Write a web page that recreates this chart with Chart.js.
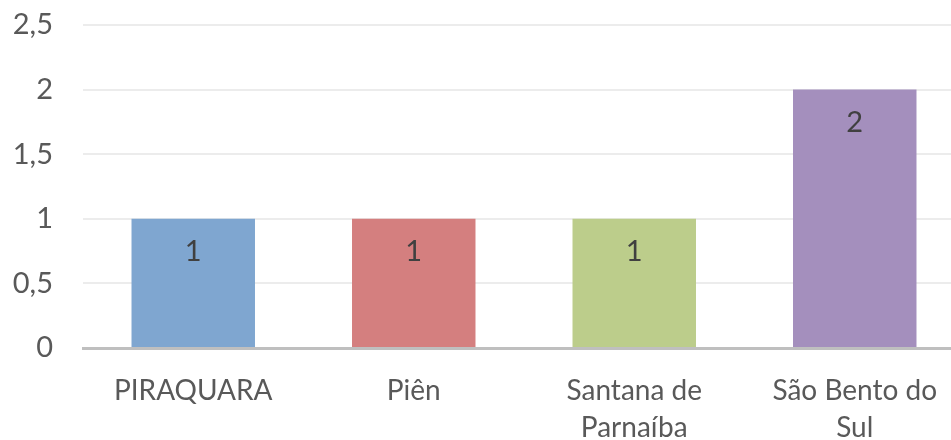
<!DOCTYPE html>
<html>
<head>
<meta charset="utf-8">
<script src="https://cdn.jsdelivr.net/npm/chart.js@4"></script>
<style>
  html, body { margin: 0; padding: 0; background: #fff; overflow: hidden; }
  #wrap { width: 965px; height: 440px; }
</style>
</head>
<body>
<div id="wrap"><canvas id="chart"></canvas></div>
<script>
const categories = ['PIRAQUARA', 'Piên', ['Santana de', 'Parnaíba'], ['São Bento do', 'Sul']];
const values = [1, 1, 1, 2];
const barColors = ['#7fa6d0', '#d47f7f', '#bccd8b', '#a48fbd'];
const yTicks = [0, 0.5, 1, 1.5, 2, 2.5];

const FONT = 'Lato, "Open Sans", sans-serif';

// value labels inside the bars, near the top
const valueLabels = {
  id: 'valueLabels',
  afterDatasetsDraw(chart) {
    const ctx = chart.ctx;
    const meta = chart.getDatasetMeta(0);
    ctx.save();
    ctx.font = '29px ' + FONT;
    ctx.fillStyle = '#404040';
    ctx.textAlign = 'center';
    ctx.textBaseline = 'middle';
    meta.data.forEach((bar, i) => {
      ctx.fillText(String(values[i]).replace('.', ','), bar.x, bar.y + 33);
    });
    ctx.restore();
  }
};

new Chart(document.getElementById('chart'), {
  type: 'bar',
  data: {
    labels: categories,
    datasets: [{
      data: values,
      backgroundColor: barColors,
      barPercentage: 0.56,
      categoryPercentage: 1
    }]
  },
  options: {
    responsive: true,
    maintainAspectRatio: false,
    animation: false,
    layout: { padding: { top: 25, left: 0, right: 0, bottom: 0 } },
    plugins: { legend: { display: false }, tooltip: { enabled: false } },
    scales: {
      x: {
        grid: { display: false },
        border: { color: '#bfbfbf', width: 3 },
        afterFit(axis) { axis.height = 92; },
        ticks: { color: '#595959', font: { family: FONT, size: 28, lineHeight: 1.3 }, padding: 17, maxRotation: 0, autoSkip: false }
      },
      y: {
        min: 0,
        max: 2.5,
        afterBuildTicks(axis) { axis.ticks = yTicks.map(v => ({ value: v })); },
        afterFit(axis) {
          axis.width = 83;
          axis.paddingTop = 0;
          axis.paddingBottom = 0;
        },
        grid: { color: '#ececec', lineWidth: 2, drawTicks: false },
        border: { display: false },
        ticks: {
          color: '#595959',
          font: { family: FONT, size: 29 },
          padding: 30,
          callback: v => String(v).replace('.', ',')
        }
      }
    }
  },
  plugins: [valueLabels]
});
</script>
</body>
</html>
